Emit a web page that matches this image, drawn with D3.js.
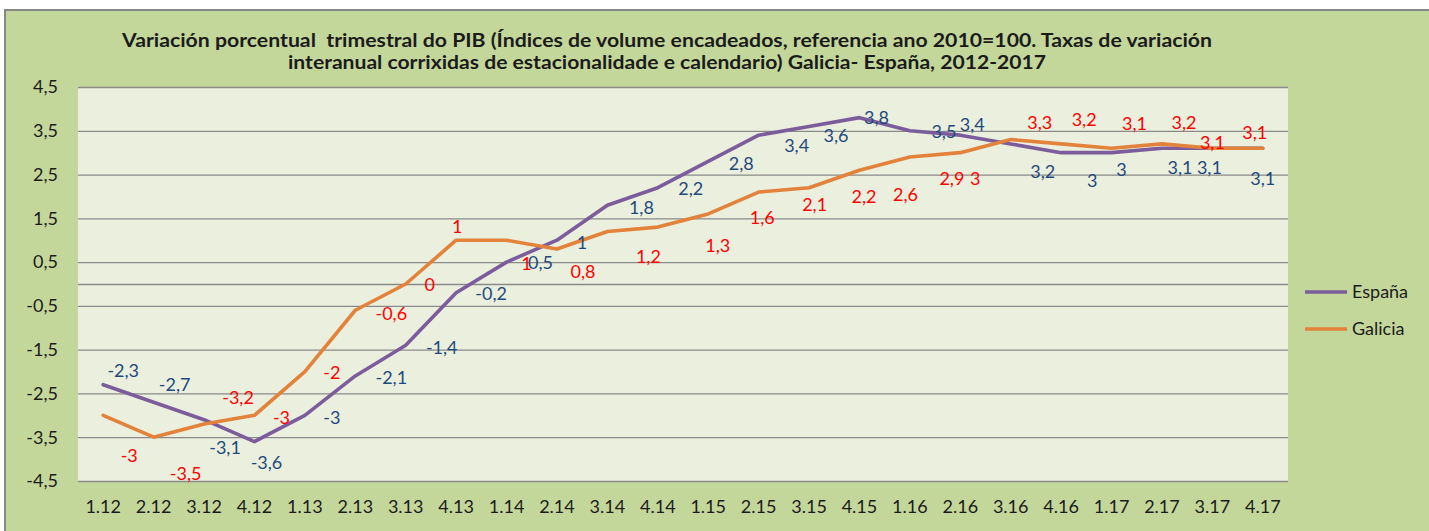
<!DOCTYPE html>
<html>
<head>
<meta charset="utf-8">
<script src="https://cdn.jsdelivr.net/npm/d3@7"></script>
<style>
  html, body { margin: 0; padding: 0; background: #fff; overflow: hidden; }
  svg { display: block; font-family: Lato, "Open Sans", sans-serif; }
  text.title { white-space: pre; }
</style>
</head>
<body>
<svg id="chart" width="1429" height="531"></svg>
<script>
// Quarters (trimestre.ano).
const categories = ['1.12', '2.12', '3.12', '4.12', '1.13', '2.13', '3.13', '4.13',
  '1.14', '2.14', '3.14', '4.14', '1.15', '2.15', '3.15', '4.15',
  '1.16', '2.16', '3.16', '4.16', '1.17', '2.17', '3.17', '4.17'];

const espana = [-2.3, -2.7, -3.1, -3.6, -3, -2.1, -1.4, -0.2,
  0.5, 1, 1.8, 2.2, 2.8, 3.4, 3.6, 3.8,
  3.5, 3.4, 3.2, 3, 3, 3.1, 3.1, 3.1];

const galicia = [-3, -3.5, -3.2, -3, -2, -0.6, 0, 1,
  1, 0.8, 1.2, 1.3, 1.6, 2.1, 2.2, 2.6,
  2.9, 3, 3.3, 3.2, 3.1, 3.2, 3.1, 3.1];

const yTicks = [-4.5, -3.5, -2.5, -1.5, -0.5, 0.5, 1.5, 2.5, 3.5, 4.5];

const titleLines = [
  'Variación porcentual  trimestral do PIB (Índices de volume encadeados, referencia ano 2010=100. Taxas de variación',
  'interanual corrixidas de estacionalidade e calendario) Galicia- España, 2012-2017'
];

// Data labels were dragged around by hand in the original, so keep the
// pixel offsets (label centre relative to the point) apart from the values.
const espanaLabelOffsets = [[20, -14], [21, -18], [21, 28], [12, 21], [27, 2], [36, 2], [36, 2], [35, 1],
  [34, 1], [25, 2], [34, 2], [33, 1], [33, 2], [38, 11], [27, 9], [17, 0],
  [34, 1], [12, -10], [32, 28], [31, 28], [10, 17], [18, 19], [-3, 19], [0, 30]];

const galiciaLabelOffsets = [[26, 40], [32, 36], [34, -26], [27, 2], [27, 1], [36, 3], [24, 1], [1, -14],
  [20, 23], [26, 23], [41, 25], [60, 19], [54, 4], [56, 13], [55, 9], [46, 25],
  [42, 22], [15, 26], [29, -17], [23, -24], [23, -25], [22, -21], [0, -6], [-8, -16]];

const series = [
  { name: 'España', values: espana, offsets: espanaLabelOffsets, line: '#7b5d9c', text: '#1f497d' },
  { name: 'Galicia', values: galicia, offsets: galiciaLabelOffsets, line: '#e2823b', text: '#ff0000' }
];

const svg = d3.select('#chart');
const plot = { left: 78, right: 1288, top: 87, bottom: 481 };
const fontSize = 18;

var fmt = function(v) { return String(v).replace('.', ','); };

// Chart area.
svg.append('rect')
  .attr('x', 5).attr('y', 10)
  .attr('width', 1440).attr('height', 540)
  .attr('fill', '#c4d79b')
  .attr('stroke', '#878787')
  .attr('stroke-width', 2);

// Title.
var titleWidths = [1090, 758];
svg.selectAll('text.title')
  .data(titleLines)
  .join('text')
  .attr('class', 'title')
  .attr('x', 667)
  .attr('y', (d, i) => 47 + i * 22)
  .attr('text-anchor', 'middle')
  .attr('font-size', 19)
  .attr('font-weight', 'bold')
  .attr('fill', '#1b1b1b')
  .attr('textLength', (d, i) => titleWidths[i])
  .attr('lengthAdjust', 'spacingAndGlyphs')
  .text(d => d);

const x = d3.scaleBand()
  .domain(categories)
  .range([plot.left, plot.right])
  .paddingInner(0)
  .paddingOuter(0);

const y = d3.scaleLinear()
  .domain([-4.5, 4.5])
  .range([plot.bottom, plot.top]);

var px = function(i) { return x(categories[i]) + x.bandwidth() / 2; };

// Plot area.
svg.append('rect')
  .attr('x', plot.left).attr('y', plot.top)
  .attr('width', plot.right - plot.left)
  .attr('height', plot.bottom - plot.top)
  .attr('fill', '#ebf0de');

// Gridlines plus the category axis line at 0.
svg.append('g')
  .attr('transform', 'translate(' + plot.left + ',0)')
  .call(d3.axisLeft(y).tickValues(yTicks.concat([0])).tickSize(-(plot.right - plot.left)).tickFormat(''))
  .call(g => g.select('.domain').remove())
  .call(g => g.selectAll('line').attr('stroke', '#8a8a8a').attr('stroke-width', 1.3));

// Y tick labels.
svg.append('g')
  .selectAll('text')
  .data(yTicks)
  .join('text')
  .attr('x', 58)
  .attr('y', d => y(d))
  .attr('dy', '0.35em')
  .attr('text-anchor', 'end')
  .attr('font-size', fontSize)
  .attr('fill', '#1b1b1b')
  .text(fmt);

// X labels sit at the bottom of the plot ("low" position).
svg.append('g')
  .attr('transform', 'translate(0,' + plot.bottom + ')')
  .call(d3.axisBottom(x).tickSize(0).tickPadding(19))
  .call(g => g.select('.domain').remove())
  .call(g => g.selectAll('text')
    .attr('font-size', fontSize)
    .attr('font-family', 'Lato, "Open Sans", sans-serif')
    .attr('fill', '#1b1b1b'));

// Lines.
var line = d3.line()
  .x((d, i) => px(i))
  .y(d => y(d));

svg.append('g')
  .selectAll('path')
  .data(series)
  .join('path')
  .attr('d', d => line(d.values))
  .attr('fill', 'none')
  .attr('stroke', d => d.line)
  .attr('stroke-width', 3.6)
  .attr('stroke-linejoin', 'round')
  .attr('stroke-linecap', 'round');

// Data labels.
series.forEach(function(s) {
  svg.append('g')
    .selectAll('text')
    .data(s.values)
    .join('text')
    .attr('x', (d, i) => px(i) + s.offsets[i][0])
    .attr('y', (d, i) => y(d) + s.offsets[i][1])
    .attr('dy', '0.35em')
    .attr('text-anchor', 'middle')
    .attr('font-size', fontSize)
    .attr('fill', s.text)
    .text(fmt);
});

// Legend.
var legend = svg.append('g')
  .selectAll('g')
  .data(series)
  .join('g')
  .attr('transform', (d, i) => 'translate(1305,' + (292 + i * 37) + ')');

legend.append('line')
  .attr('x1', 0).attr('x2', 42)
  .attr('stroke', d => d.line)
  .attr('stroke-width', 3.6);

legend.append('text')
  .attr('x', 47)
  .attr('dy', '0.35em')
  .attr('font-size', fontSize)
  .attr('fill', '#1b1b1b')
  .text(d => d.name);
</script>
</body>
</html>
